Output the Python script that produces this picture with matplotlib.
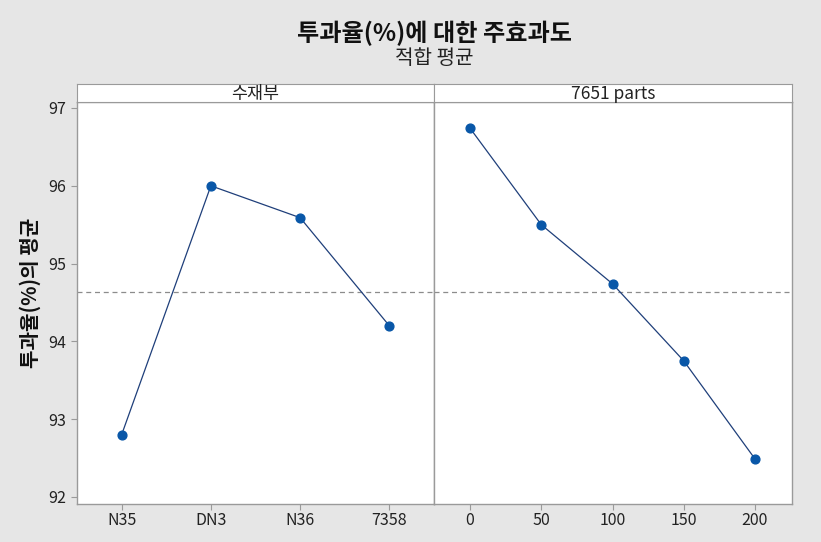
import numpy as np
import matplotlib
matplotlib.use("Agg")
import matplotlib.pyplot as plt

plt.rcParams['font.family'] = ['Noto Sans CJK KR', 'DejaVu Sans']

# data
left_cats = ["N35", "DN3", "N36", "7358"]
left_vals = [92.80, 96.00, 95.59, 94.20]
right_x = [0, 50, 100, 150, 200]
right_vals = [96.74, 95.50, 94.74, 93.75, 92.49]
grand_mean = 94.64
y_ticks = [92, 93, 94, 95, 96, 97]

bg = "#E6E6E6"
frame = "#9A9A9A"
mark_col = "#0957A8"
line_col = "#1F3F7A"

fig = plt.figure(figsize=(8.21, 5.42), dpi=100, facecolor=bg)

L, M, R = 77 / 821, 434 / 821, 792 / 821
B, T, S = 1 - 504 / 542, 1 - 102 / 542, 1 - 84 / 542

ax1 = fig.add_axes([L, B, M - L, T - B])
ax2 = fig.add_axes([M, B, R - M, T - B], sharey=ax1)

for ax in (ax1, ax2):
    ax.set_facecolor("white")
    for sp in ax.spines.values():
        sp.set_color(frame)
        sp.set_linewidth(1)
    ax.axhline(grand_mean, color="#8C8C8C", ls=(0, (4, 3)), lw=0.9, zorder=1)
    ax.tick_params(colors=frame, labelcolor="#222222", labelsize=11.5, length=4, width=0.8)
    ax.tick_params(axis="x", pad=2)

ax1.plot(range(len(left_cats)), left_vals, color=line_col, lw=0.9, zorder=2)
ax1.scatter(range(len(left_cats)), left_vals, s=40, color=mark_col, zorder=3)
ax1.set_xticks(range(len(left_cats)))
ax1.set_xticklabels(left_cats)
ax1.set_xlim(-0.5, 3.5)
ax1.set_ylim(91.91, 97.077)
ax1.set_yticks(y_ticks)

ax2.plot(right_x, right_vals, color=line_col, lw=0.9, zorder=2)
ax2.scatter(right_x, right_vals, s=40, color=mark_col, zorder=3)
ax2.set_xticks(right_x)
ax2.set_xlim(-25.3, 226)
ax2.tick_params(axis="y", left=False, labelleft=False)

# header strips
for x0, w, lab in [(L, M - L, "수재부"), (M, R - M, "7651 parts")]:
    st = fig.add_axes([x0, T, w, S - T])
    st.set_facecolor("white")
    st.set_xticks([])
    st.set_yticks([])
    for sp in st.spines.values():
        sp.set_color(frame)
    st.text(0.5, 0.45, lab, ha="center", va="center", fontsize=12.5, color="#222222")

cx = (L + R) / 2
fig.text(cx, 1 - 33 / 542, "투과율(%)에 대한 주효과도", ha="center", va="center",
         fontsize=17.4, fontweight="bold", color="#111111")
fig.text(cx, 1 - 59 / 542, "적합 평균", ha="center", va="center", fontsize=14.5, color="#222222")
fig.text(30 / 821, 1 - 293 / 542, "투과율(%)의 평균", ha="center", va="center", rotation=90,
         fontsize=14.5, fontweight="bold", color="#111111")

fig.savefig("out.png", dpi=100, facecolor=bg)
